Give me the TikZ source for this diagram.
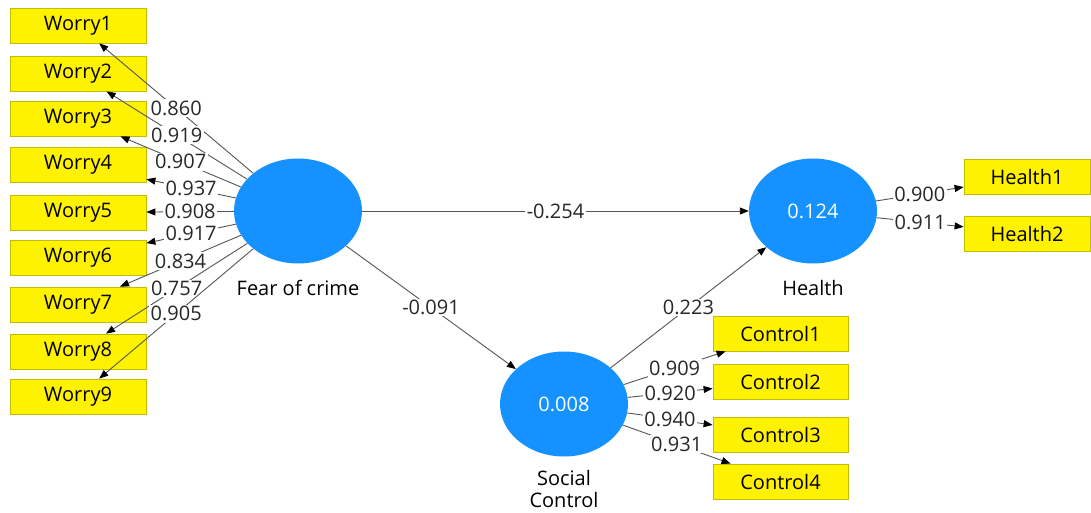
\documentclass[tikz,border=0pt]{standalone}
\usepackage{fontspec}
\setmainfont{Open Sans}
\usetikzlibrary{arrows.meta,shapes.geometric}

\definecolor{plsblue}{RGB}{21,146,255}
\definecolor{boxedge}{RGB}{196,188,0}
\definecolor{linegray}{RGB}{85,85,85}
\definecolor{numtext}{RGB}{40,40,40}

\tikzset{
  indicator/.style={draw=boxedge, fill=yellow, line width=0.8pt, minimum width=136pt, minimum height=35pt, inner sep=0pt},
  construct/.style={ellipse, fill=plsblue, minimum width=128pt, minimum height=105pt, inner sep=0pt, text=white},
  loading/.style={draw=linegray, line width=0.9pt, -{Triangle[length=9pt,width=7pt,black]}},
  coef/.style={midway, fill=white, inner sep=1.5pt, text=numtext},
}

\begin{document}
\begin{tikzpicture}[x=1pt,y=-1pt,font=\fontsize{20}{22}\selectfont]
\useasboundingbox (0,0) rectangle (1091,513);

% constructs
\node[construct] (fear) at (298,211) {};
\node[construct] (health) at (813,211) {0.124};
\node[construct] (social) at (564,404) {0.008};
\node (fearlbl) at (298,288) {Fear of crime};
\node (healthlbl) at (813,288) {Health};
\node[align=center, inner sep=0pt] (sociallbl) at (564,489) {Social\\Control};

% indicators
\node[indicator] (w1) at (78,25.5) {Worry1};
\node[indicator] (w2) at (78,73.5) {Worry2};
\node[indicator] (w3) at (78,118.5) {Worry3};
\node[indicator] (w4) at (78,165) {Worry4};
\node[indicator] (w5) at (78,212.5) {Worry5};
\node[indicator] (w6) at (78,257.5) {Worry6};
\node[indicator] (w7) at (78,304.5) {Worry7};
\node[indicator] (w8) at (78,351.5) {Worry8};
\node[indicator] (w9) at (78,396.5) {Worry9};

\node[indicator, minimum width=126pt] (h1) at (1027,177) {Health1};
\node[indicator, minimum width=126pt] (h2) at (1027,233.5) {Health2};

\node[indicator, minimum width=135pt] (c1) at (780.5,333.5) {Control1};
\node[indicator, minimum width=135pt] (c2) at (780.5,381.5) {Control2};
\node[indicator, minimum width=135pt] (c3) at (780.5,434.5) {Control3};
\node[indicator, minimum width=135pt] (c4) at (780.5,481.5) {Control4};

% outer loadings
\draw[loading] (fear) -- (w1) node[coef] {0.860};
\draw[loading] (fear) -- (w2) node[coef] {0.919};
\draw[loading] (fear) -- (w3) node[coef] {0.907};
\draw[loading] (fear) -- (w4) node[coef] {0.937};
\draw[loading] (fear) -- (w5) node[coef] {0.908};
\draw[loading] (fear) -- (w6) node[coef] {0.917};
\draw[loading] (fear) -- (w7) node[coef] {0.834};
\draw[loading] (fear) -- (w8) node[coef] {0.757};
\draw[loading] (fear) -- (w9) node[coef] {0.905};

\draw[loading] (health) -- (h1) node[coef] {0.900};
\draw[loading] (health) -- (h2) node[coef] {0.911};

\draw[loading] (social) -- (c1) node[coef] {0.909};
\draw[loading] (social) -- (c2) node[coef] {0.920};
\draw[loading] (social) -- (c3) node[coef] {0.940};
\draw[loading] (social) -- (c4) node[coef] {0.931};

% path coefficients
\draw[loading] (fear) -- (health) node[coef] {-0.254};
\draw[loading] (fear) -- (social) node[coef] {-0.091};
\draw[loading] (social) -- (health) node[coef] {0.223};
\end{tikzpicture}
\end{document}
